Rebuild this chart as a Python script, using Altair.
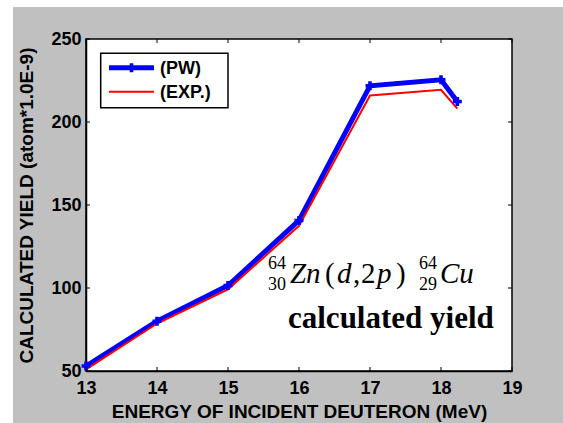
import altair as alt
import pandas as pd

# ---- data ----
energy = [13, 14, 15, 16, 17, 18, 18.23]
yield_pw = [53, 80, 101.5, 140.7, 221.8, 225.4, 212.3]
yield_exp = [51, 78.6, 99.2, 137.5, 216, 219.4, 208]
series_names = ["(PW)", "(EXP.)"]
series_colors = ["#0000ff", "#ff0000"]
x_ticks = [13, 14, 15, 16, 17, 18, 19]
y_ticks = [50, 100, 150, 200, 250]

df_pw = pd.DataFrame({"E": energy, "Y": yield_pw, "order": list(range(len(energy)))})
df_exp = pd.DataFrame({"E": energy, "Y": yield_exp, "order": list(range(len(energy)))})

# annotation pieces (data coordinates)
ann_italic = pd.DataFrame({"t": ["Zn", "d", "p", "Cu"],
                           "x": [15.873, 16.535, 17.099, 17.986],
                           "y": [103, 103, 103, 103]})
ann_upright = pd.DataFrame({"t": ["(", ",", "2", ")"],
                            "x": [16.366, 16.761, 16.873, 17.366],
                            "y": [103, 103, 103, 103]})
ann_small = pd.DataFrame({"t": ["64", "30", "64", "29"],
                          "x": [15.563, 15.563, 17.69, 17.69],
                          "y": [111.2, 98.9, 111.2, 98.9]})
ann_bold = pd.DataFrame({"t": ["calculated yield"], "x": [15.845], "y": [75.9]})

W, H = 426, 332
xs = alt.Scale(domain=[13, 19], nice=False, zero=False)
ys = alt.Scale(domain=[50, 250], nice=False, zero=False)

SANS = "Liberation Sans"
SERIF = "Liberation Serif"

one = pd.DataFrame({"a": [0]})

# white strips outside the grey figure area
strip_left = alt.Chart(one).mark_rect(color="white").encode(
    x=alt.value(-90), x2=alt.value(-73), y=alt.value(-45), y2=alt.value(400))
strip_top = alt.Chart(one).mark_rect(color="white").encode(
    x=alt.value(-90), x2=alt.value(500), y=alt.value(-45), y2=alt.value(-32))

x_axis = alt.Axis(values=x_ticks, format="d", title="ENERGY OF INCIDENT DEUTERON (MeV)",
                  tickSize=0, labelPadding=8, titlePadding=5, grid=False,
                  domainColor="black", labelFont=SANS, labelFontSize=18,
                  labelFontWeight="bold", labelColor="black",
                  titleFont=SANS, titleFontSize=19, titleFontWeight="bold",
                  titleColor="black", labelFlush=False)
y_axis = alt.Axis(values=y_ticks, title="CALCULATED YIELD (atom*1.0E-9)",
                  tickSize=0, labelPadding=5, grid=False,
                  domainColor="black", labelFont=SANS, labelFontSize=18,
                  labelFontWeight="bold", labelColor="black",
                  titleFont=SANS, titleFontSize=19, titleFontWeight="bold",
                  titleColor="black", titleX=-60, titleBaseline="middle",
                  labelFlush=False)

line_pw = alt.Chart(df_pw).mark_line(color=series_colors[0], strokeWidth=5).encode(
    x=alt.X("E:Q", scale=xs, axis=x_axis),
    y=alt.Y("Y:Q", scale=ys, axis=y_axis),
    order="order:Q")
line_exp = alt.Chart(df_exp).mark_line(color=series_colors[1], strokeWidth=2).encode(
    x=alt.X("E:Q", scale=xs), y=alt.Y("Y:Q", scale=ys), order="order:Q")
markers = alt.Chart(df_pw).mark_point(shape="cross", filled=True, size=80,
                                       color=series_colors[0], opacity=1).encode(
    x=alt.X("E:Q", scale=xs), y=alt.Y("Y:Q", scale=ys))

xt = pd.DataFrame({"v": x_ticks})
yt = pd.DataFrame({"v": y_ticks})
tick_b = alt.Chart(xt).mark_rule(color="black").encode(
    x=alt.X("v:Q", scale=xs), y=alt.value(H), y2=alt.value(H - 4))
tick_t = alt.Chart(xt).mark_rule(color="black").encode(
    x=alt.X("v:Q", scale=xs), y=alt.value(0), y2=alt.value(4))
tick_l = alt.Chart(yt).mark_rule(color="black").encode(
    y=alt.Y("v:Q", scale=ys), x=alt.value(0), x2=alt.value(4))
tick_r = alt.Chart(yt).mark_rule(color="black").encode(
    y=alt.Y("v:Q", scale=ys), x=alt.value(W), x2=alt.value(W - 4))

# manual legend box (MATLAB style)
leg_box = alt.Chart(one).mark_rect(fill="white", stroke="black", strokeWidth=1.5).encode(
    x=alt.value(14.7), x2=alt.value(142), y=alt.value(14.3), y2=alt.value(68.7))
leg_pw = alt.Chart(one).mark_rule(color=series_colors[0], strokeWidth=5).encode(
    x=alt.value(23), x2=alt.value(68), y=alt.value(28.7))
leg_pw_mk = alt.Chart(one).mark_point(shape="cross", filled=True, size=80,
                                      color=series_colors[0], opacity=1).encode(
    x=alt.value(45.5), y=alt.value(28.7))
leg_exp = alt.Chart(one).mark_rule(color=series_colors[1], strokeWidth=2).encode(
    x=alt.value(23), x2=alt.value(68), y=alt.value(52.7))
leg_lab = alt.Chart(pd.DataFrame({"t": series_names, "yy": [29.7, 53.7]})).mark_text(
    font=SANS, fontSize=18, fontWeight="bold", align="left", baseline="middle",
    color="black").encode(x=alt.value(74), y=alt.Y("yy:Q", scale=None), text="t:N")

def txt(d, size, style="normal", weight="normal"):
    return alt.Chart(d).mark_text(font=SERIF, fontSize=size, fontStyle=style,
                                  fontWeight=weight, align="left",
                                  baseline="alphabetic", color="black").encode(
        x=alt.X("x:Q", scale=xs), y=alt.Y("y:Q", scale=ys), text="t:N")

t1 = txt(ann_italic, 29, style="italic")
t2 = txt(ann_upright, 29)
t3 = txt(ann_small, 18)
t4 = txt(ann_bold, 31, weight="bold")

chart = alt.layer(strip_left, strip_top, line_pw, line_exp, markers,
                  tick_b, tick_t, tick_l, tick_r,
                  t1, t2, t3, t4,
                  leg_box, leg_pw, leg_pw_mk, leg_exp, leg_lab).properties(
    width=W, height=H,
    autosize=alt.AutoSizeParams(type="none"),
    padding={"left": 86, "top": 39, "right": 51, "bottom": 52},
    background="#c0c0c0",
).configure_view(fill="white", stroke="black", strokeWidth=1.5).configure_axis(
    domainWidth=1.5)

chart.save("out.html", embed_options={"renderer": "svg", "actions": False})
